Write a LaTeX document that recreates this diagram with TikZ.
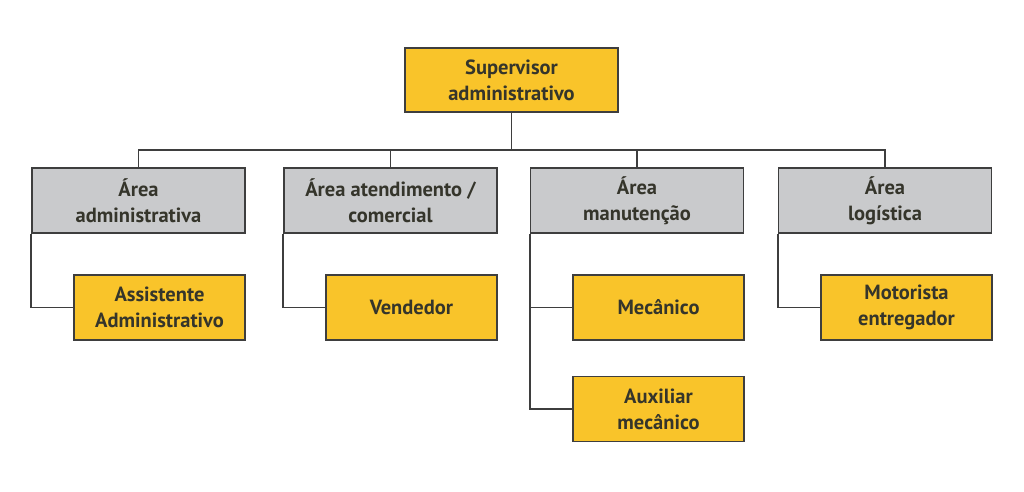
\documentclass[tikz,border=0pt]{standalone}
\usepackage{fontspec}
\setmainfont{PT Sans}
\usepackage{tikz}
\definecolor{boxyellow}{HTML}{F9C42A}
\definecolor{boxgray}{HTML}{C9CACC}
\definecolor{edgegray}{HTML}{3E3E3E}
\definecolor{txtdark}{HTML}{35352B}
\begin{document}
\begin{tikzpicture}[x=1pt, y=-1pt,
    box/.style={draw=edgegray, line width=1.8pt, align=center, text=txtdark, font=\fontsize{20.5}{26}\selectfont\bfseries, inner sep=0},
    boss/.style={box, fill=boxyellow, minimum width=213pt, minimum height=64pt},
    area/.style={box, fill=boxgray, minimum width=213pt, minimum height=65pt},
    role/.style={box, fill=boxyellow, minimum width=171pt, minimum height=65pt},
    link/.style={draw=edgegray, line width=1.8pt}]
        \useasboundingbox (0,0) rectangle (1024,491);

        \node [boss] (top) at (511.5,80) {Supervisor\\administrativo};
        \coordinate (bus) at (511.5,150);
        \draw [link] (top) -- (bus);

        \foreach \i/\x/\txt in {1/138.5/{Área\\administrativa}, 2/390.5/{Área atendimento /\\comercial}, 3/637/{Área\\manutenção}, 4/885/{Área\\logística}} {
          \node [area] (a\i) at (\x,200.5) {\txt};
          \draw [link] (a\i.north) |- (bus);
        }

        \node [role] (r1) at (159.5,307.5) {Assistente\\Administrativo};
        \node [role] (r2) at (411.5,307.5) {Vendedor};
        \node [role] (r3) at (658.5,307.5) {Mecânico};
        \node [role] (r5) at (658.5,409) {Auxiliar\\mecânico};
        \node [role] (r4) at (906.5,307.5) {Motorista\\entregador};

        \draw [link] (a1.south west) |- (r1.west);
        \draw [link] (a2.south west) |- (r2.west);
        \draw [link] (a3.south west) |- (r3.west);
        \draw [link] (a3.south west) |- (r5.west);
        \draw [link] (a4.south west) |- (r4.west);
      \end{tikzpicture}
\end{document}
